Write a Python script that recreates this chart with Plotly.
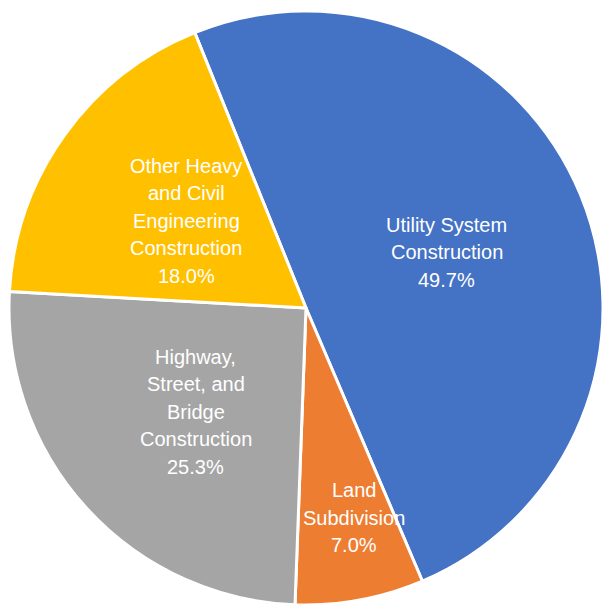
import math
import plotly.graph_objects as go

# Industry shares of heavy and civil engineering construction
labels = [
    "Utility System Construction",
    "Land Subdivision",
    "Highway, Street, and Bridge Construction",
    "Other Heavy and Civil Engineering Construction",
]
shares = [49.7, 7.0, 25.3, 18.0]
label_lines = [
    ["Utility System", "Construction"],
    ["Land", "Subdivision"],
    ["Highway,", "Street, and", "Bridge", "Construction"],
    ["Other Heavy", "and Civil", "Engineering", "Construction"],
]
colors = ["#4472C4", "#ED7D31", "#A5A5A5", "#FFC000"]

W, H = 603, 607
START_DEG = -22  # first slice starts slightly left of 12 o'clock

# pie placement in pixels
left, top, right, bottom = 9, 11, 603, 605
cx, cy = (left + right) / 2, (top + bottom) / 2
R = min(right - left, bottom - top) / 2

fig = go.Figure(
    go.Pie(
        labels=labels,
        values=shares,
        sort=False,
        direction="clockwise",
        rotation=START_DEG,
        marker=dict(colors=colors, line=dict(color="white", width=3)),
        textinfo="none",
        hoverinfo="label+percent",
        showlegend=False,
        domain=dict(x=[left / W, right / W], y=[1 - bottom / H, 1 - top / H]),
    )
)

# label placement per slice: radius as fraction of R, angular nudge in degrees
label_radius = [0.51, 0.725, 0.51, 0.5]
label_nudge = [1.0, -2.5, -1.0, 0.5]
font_px = 20
line_gap = 27.5

total = sum(shares)
acc = 0.0
annotations = []
for name_lines, v, rf, dn in zip(label_lines, shares, label_radius, label_nudge):
    mid = START_DEG + (acc + v / 2) / total * 360 + dn
    acc += v
    a = math.radians(mid)
    lx = cx + math.sin(a) * R * rf
    ly = cy - math.cos(a) * R * rf
    lines = name_lines + [f"{v:.1f}%"]
    n = len(lines)
    for i, txt in enumerate(lines):
        py = ly + (i - (n - 1) / 2) * line_gap
        annotations.append(
            dict(
                x=lx / W,
                y=1 - py / H,
                xref="paper",
                yref="paper",
                text=txt,
                showarrow=False,
                xanchor="center",
                yanchor="middle",
                font=dict(family="Liberation Sans, Arial, sans-serif",
                          size=font_px, color="white"),
            )
        )

fig.update_layout(
    width=W,
    height=H,
    margin=dict(l=0, r=0, t=0, b=0),
    paper_bgcolor="white",
    plot_bgcolor="white",
    annotations=annotations,
)

fig.write_html("out.html")
